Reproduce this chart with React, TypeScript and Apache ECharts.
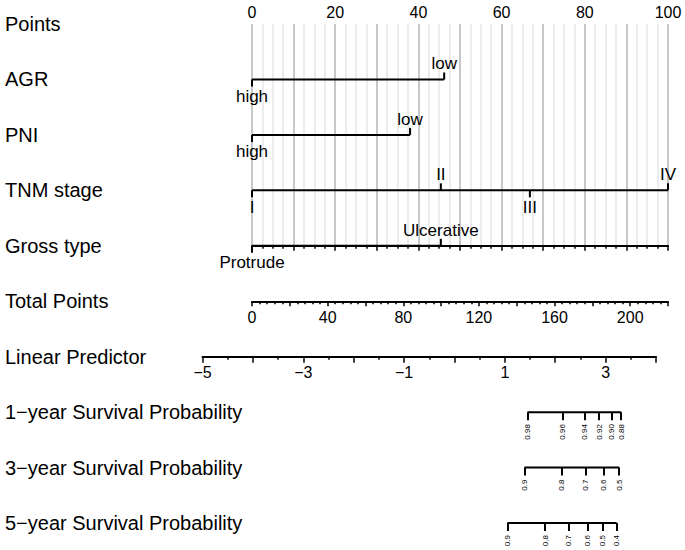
import React, { useEffect, useRef } from "react";
import * as echarts from "echarts";

// ---------- data ----------
const rowNames = [
  "Points",
  "AGR",
  "PNI",
  "TNM stage",
  "Gross type",
  "Total Points",
  "Linear Predictor",
  "1\u2212year Survival Probability",
  "3\u2212year Survival Probability",
  "5\u2212year Survival Probability",
];

const agrLevels = ["high", "low"];
const agrPoints = [0, 46.2];
const pniLevels = ["high", "low"];
const pniPoints = [0, 38];
const tnmLevels = ["I", "II", "III", "IV"];
const tnmPoints = [0, 45.4, 66.8, 100];
const grossLevels = ["Protrude", "Ulcerative"];
const grossPoints = [0, 45.4];

const pointsRange = [0, 100];
const totalPointsRange = [0, 220];
const lpRange = [-5, 4];

const surv1Labels = ["0.98", "0.96", "0.94", "0.92", "0.90", "0.88"];
const surv1LP = [1.45, 2.15, 2.59, 2.87, 3.12, 3.31];
const surv3Labels = ["0.9", "0.8", "0.7", "0.6", "0.5"];
const surv3LP = [1.39, 2.13, 2.61, 2.96, 3.27];
const surv5Labels = ["0.9", "0.8", "0.7", "0.6", "0.5", "0.4"];
const surv5LP = [1.05, 1.8, 2.27, 2.64, 2.94, 3.22];

// ---------- layout ----------
const FONT = "'Liberation Sans', Arial, Helvetica, sans-serif";
const TOP = 24;
const STEP = 55.45;
const PL = 252;
const PR = 17;
const LPL = 202.5;
const LPR = 29;
const rowY = (i: number) => TOP + i * STEP;

const predictorRows = [
  { row: 1, levels: agrLevels, points: agrPoints },
  { row: 2, levels: pniLevels, points: pniPoints },
  { row: 3, levels: tnmLevels, points: tnmPoints },
  { row: 4, levels: grossLevels, points: grossPoints },
];

const nearestLabel = (vals: number[], labels: string[]) => (v: number) => {
  let best = 0;
  for (let i = 1; i < vals.length; i++) {
    if (Math.abs(vals[i] - v) < Math.abs(vals[best] - v)) best = i;
  }
  return labels[best];
};

const black = "#000";

function survAxis(gridIndex: number, vals: number[], labels: string[]) {
  return {
    gridIndex,
    type: "value",
    position: "bottom",
    min: lpRange[0],
    max: lpRange[1],
    axisLine: { show: false },
    axisTick: {
      show: true,
      customValues: vals,
      length: 8,
      lineStyle: { color: black, width: 2 },
    },
    minorTick: { show: false },
    splitLine: { show: false },
    axisLabel: {
      customValues: vals,
      formatter: nearestLabel(vals, labels),
      rotate: 90,
      fontSize: 8,
      margin: 12,
      color: black,
      fontFamily: FONT,
    },
  };
}

function survSeries(idx: number, vals: number[]) {
  return {
    type: "line",
    xAxisIndex: idx,
    yAxisIndex: idx,
    data: [
      [vals[0], 0],
      [vals[vals.length - 1], 0],
    ],
    symbol: "none",
    silent: true,
    clip: false,
    lineStyle: { color: black, width: 2 },
  };
}

export default function App() {
  const ref = useRef<HTMLDivElement>(null);

  useEffect(() => {
    document.body.style.margin = "0";
    if (!ref.current) return;
    const chart = echarts.init(ref.current, undefined, { renderer: "svg" });

    const hiddenY = (gridIndex: number) => ({
      gridIndex,
      type: "value",
      min: 0,
      max: 1,
      show: false,
    });

    const option: any = {
      animation: false,
      backgroundColor: "#fff",
      textStyle: { fontFamily: FONT },
      grid: [
        { left: PL, right: PR, top: TOP, height: STEP * 9, outerBoundsMode: "none" },
        { left: PL, right: PR, top: TOP, height: STEP * 4, outerBoundsMode: "none" },
        { left: PL, right: PR, top: rowY(5) - 10, height: 10, outerBoundsMode: "none" },
        { left: LPL, right: LPR, top: rowY(6) - 10, height: 10, outerBoundsMode: "none" },
        { left: LPL, right: LPR, top: rowY(7) - 10, height: 10, outerBoundsMode: "none" },
        { left: LPL, right: LPR, top: rowY(8) - 10, height: 10, outerBoundsMode: "none" },
        { left: LPL, right: LPR, top: rowY(9) - 10, height: 10, outerBoundsMode: "none" },
      ],
      xAxis: [
        { gridIndex: 0, type: "value", min: pointsRange[0], max: pointsRange[1], show: false },
        {
          gridIndex: 1,
          type: "value",
          position: "top",
          min: pointsRange[0],
          max: pointsRange[1],
          interval: 10,
          axisLine: { show: true, lineStyle: { color: black, width: 2 } },
          axisTick: { show: true, inside: true, length: 5, lineStyle: { color: black, width: 1.5 } },
          minorTick: { show: true, splitNumber: 4, length: 3, lineStyle: { color: black, width: 1.5 } },
          axisLabel: {
            formatter: (v: number) => (v % 20 === 0 ? String(v) : ""),
            margin: 4,
            fontSize: 16,
            color: black,
            fontFamily: FONT,
          },
          splitLine: { show: true, lineStyle: { color: "#c8c8c8", width: 2 } },
          minorSplitLine: { show: true, lineStyle: { color: "#e6e6e6", width: 1.5 } },
        },
        {
          gridIndex: 2,
          type: "value",
          position: "bottom",
          min: totalPointsRange[0],
          max: totalPointsRange[1],
          interval: 20,
          axisLine: { show: true, lineStyle: { color: black, width: 2 } },
          axisTick: { show: true, length: 5, lineStyle: { color: black, width: 1.5 } },
          minorTick: { show: true, splitNumber: 5, length: 3, lineStyle: { color: black, width: 1.5 } },
          axisLabel: {
            formatter: (v: number) => (v % 40 === 0 ? String(v) : ""),
            margin: 8,
            fontSize: 16,
            color: black,
            fontFamily: FONT,
          },
          splitLine: { show: false },
        },
        {
          gridIndex: 3,
          type: "value",
          position: "bottom",
          min: lpRange[0],
          max: lpRange[1],
          interval: 1,
          axisLine: { show: true, lineStyle: { color: black, width: 2 } },
          axisTick: { show: true, length: 6, lineStyle: { color: black, width: 1.5 } },
          minorTick: { show: true, splitNumber: 2, length: 3, lineStyle: { color: black, width: 1.5 } },
          axisLabel: {
            formatter: (v: number) =>
              Math.abs(Math.round(v) % 2) === 1 ? String(v).replace("-", "\u2212") : "",
            margin: 8,
            fontSize: 16,
            color: black,
            fontFamily: FONT,
          },
          splitLine: { show: false },
        },
        survAxis(4, surv1LP, surv1Labels),
        survAxis(5, surv3LP, surv3Labels),
        survAxis(6, surv5LP, surv5Labels),
      ],
      yAxis: [
        {
          gridIndex: 0,
          type: "category",
          inverse: true,
          boundaryGap: false,
          data: rowNames,
          axisLine: { show: false },
          axisTick: { show: false },
          splitLine: { show: false },
          axisLabel: {
            interval: 0,
            align: "left",
            margin: PL - 5,
            fontSize: 20,
            color: black,
            fontFamily: FONT,
          },
        },
        hiddenY(1),
        hiddenY(2),
        hiddenY(3),
        hiddenY(4),
        hiddenY(5),
        hiddenY(6),
      ],
      series: [
        {
          type: "custom",
          xAxisIndex: 0,
          yAxisIndex: 0,
          clip: false,
          silent: true,
          data: predictorRows.map((r) => [0, r.row]),
          renderItem: (params: any, api: any) => {
            const r = predictorRows[params.dataIndex];
            const maxPts = Math.max(...r.points);
            const p0 = api.coord([r.points[0], r.row]);
            const p1 = api.coord([maxPts, r.row]);
            const children: any[] = [
              {
                type: "line",
                shape: { x1: p0[0], y1: p0[1], x2: p1[0], y2: p1[1] },
                style: { stroke: black, lineWidth: 2 },
              },
            ];
            r.levels.forEach((lab, i) => {
              const p = api.coord([r.points[i], r.row]);
              const below = i % 2 === 0;
              children.push({
                type: "line",
                shape: { x1: p[0], y1: p[1], x2: p[0], y2: p[1] + (below ? 7 : -7) },
                style: { stroke: black, lineWidth: 2 },
              });
              children.push({
                type: "text",
                x: p[0],
                y: p[1] + (below ? 17 : -15.5),
                style: {
                  text: lab,
                  fill: black,
                  fontSize: 17,
                  fontFamily: FONT,
                  align: "center",
                  verticalAlign: "middle",
                },
              });
            });
            return { type: "group", children };
          },
        },
        survSeries(4, surv1LP),
        survSeries(5, surv3LP),
        survSeries(6, surv5LP),
      ],
    };

    chart.setOption(option);
    return () => chart.dispose();
  }, []);

  return <div ref={ref} style={{ width: 685, height: 550 }} />;
}
